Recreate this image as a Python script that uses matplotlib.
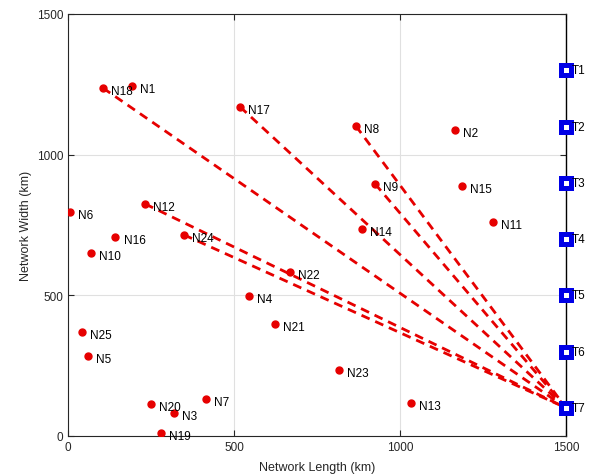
import matplotlib
matplotlib.use("Agg")
import matplotlib.pyplot as plt

plt.rcParams['font.family'] = ['Liberation Sans', 'DejaVu Sans']

# Node positions (km)
node_names = ["N1", "N2", "N3", "N4", "N5", "N6", "N7", "N8", "N9", "N10",
              "N11", "N12", "N13", "N14", "N15", "N16", "N17", "N18", "N19",
              "N20", "N21", "N22", "N23", "N24", "N25"]
node_x = [193, 1166, 319, 545, 60, 6, 416, 867, 925, 69,
          1280, 232, 1033, 886, 1187, 142, 518, 105, 280,
          250, 623, 669, 816, 349, 42]
node_y = [1244, 1088, 82, 498, 284, 796, 132, 1102, 896, 651,
          761, 825, 117, 736, 889, 707, 1170, 1237, 11,
          114, 398, 583, 235, 715, 370]

# Terminal positions on the right edge
term_names = ["T1", "T2", "T3", "T4", "T5", "T6", "T7"]
term_x = [1500, 1500, 1500, 1500, 1500, 1500, 1500]
term_y = [1300, 1100, 900, 700, 500, 300, 100]

# Nodes linked to terminal T7
linked_nodes = ["N18", "N17", "N8", "N9", "N12", "N24"]
link_target = "T7"

fig = plt.figure(figsize=(5.9, 4.77), dpi=100)
ax = fig.add_axes([0.1153, 0.0839, 0.844, 0.8847])

edge_col = (0.15, 0.15, 0.15)

tx = term_x[term_names.index(link_target)]
ty = term_y[term_names.index(link_target)]
for name in linked_nodes:
    i = node_names.index(name)
    ax.plot([node_x[i], tx], [node_y[i], ty], color=(0.9, 0.0, 0.0),
            linewidth=2.0, linestyle=(0, (3.2, 2.2)), zorder=2)

ax.plot(node_x, node_y, linestyle='none', marker='o', markersize=5,
        color=(0.9, 0.0, 0.0), zorder=3)
for name, x, y in zip(node_names, node_x, node_y):
    ax.annotate(name, (x, y), xytext=(6, -2), textcoords='offset points',
                fontsize=8.5, color='black', va='center', ha='left', zorder=4)

ax.plot(term_x, term_y, linestyle='none', marker='s', markersize=7.5,
        markerfacecolor='white', markeredgecolor=(0.0, 0.0, 0.9),
        markeredgewidth=3.6, zorder=5, clip_on=False)
for name, x, y in zip(term_names, term_x, term_y):
    ax.annotate(name, (x, y), xytext=(4, 0), textcoords='offset points',
                fontsize=8.5, color='black', va='center', ha='left', zorder=6,
                annotation_clip=False)

ax.set_xlim(0, 1500)
ax.set_ylim(0, 1500)
ax.set_xticks([0, 500, 1000, 1500])
ax.set_yticks([0, 500, 1000, 1500])
ax.grid(True, color=(0.88, 0.88, 0.88), linewidth=0.8)
ax.set_axisbelow(True)
ax.tick_params(direction='in', length=4, labelsize=8.5, colors=edge_col,
               top=True, right=True, labeltop=False, labelright=False)
for side in ['left', 'bottom', 'top']:
    ax.spines[side].set_color(edge_col)
    ax.spines[side].set_linewidth(0.8)
ax.spines['right'].set_color('black')
ax.spines['right'].set_linewidth(1.0)

ax.set_xlabel("Network Length (km)", fontsize=9, color=edge_col, labelpad=6)
ax.set_ylabel("Network Width (km)", fontsize=9, color=edge_col, labelpad=3)

fig.savefig("out.png", dpi=100)
